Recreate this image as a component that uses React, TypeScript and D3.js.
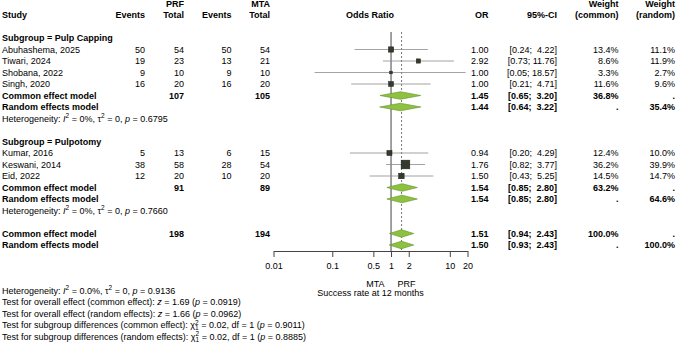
import React, { useEffect, useRef } from "react";
import * as d3 from "d3";

// study level data
const studies = ["Abuhashema, 2025", "Tiwari, 2024", "Shobana, 2022", "Singh, 2020", "Kumar, 2016", "Keswani, 2014", "Eid, 2022"];
const studyGroup = [0, 0, 0, 0, 1, 1, 1];
const prfEvents = [50, 19, 9, 16, 5, 38, 12];
const prfTotal = [54, 23, 10, 20, 13, 58, 20];
const mtaEvents = [50, 13, 9, 16, 6, 28, 10];
const mtaTotal = [54, 21, 10, 20, 15, 54, 20];
const oddsRatio = [1.0, 2.92, 1.0, 1.0, 0.94, 1.76, 1.5];
const ciLower = [0.24, 0.73, 0.05, 0.21, 0.2, 0.82, 0.43];
const ciUpper = [4.22, 11.76, 18.57, 4.71, 4.29, 3.77, 5.25];
const weightCommon = [13.4, 8.6, 3.3, 11.6, 12.4, 36.2, 14.5];
const weightRandom = [11.1, 11.9, 2.7, 9.6, 10.0, 39.9, 14.7];

// subgroup pooled results
const subgroups = ["Pulp Capping", "Pulpotomy"];
const subPrfTotal = [107, 91];
const subMtaTotal = [105, 89];
const subCommonOR = [1.45, 1.54];
const subCommonLower = [0.65, 0.85];
const subCommonUpper = [3.2, 2.8];
const subRandomOR = [1.44, 1.54];
const subRandomLower = [0.64, 0.85];
const subRandomUpper = [3.22, 2.8];
const subWeightCommon = [36.8, 63.2];
const subWeightRandom = [35.4, 64.6];
const subHetP = ["0.6795", "0.7660"];

// overall pooled results
const overallPrfTotal = 198;
const overallMtaTotal = 194;
const overallCommon = [1.51, 0.94, 2.43];
const overallRandom = [1.5, 0.93, 2.43];

const axisTicks = [0.01, 0.1, 0.5, 1, 2, 10, 20];

type Seg = [string, string?];

const bottomLines: Seg[][] = [
  [["Heterogeneity: "], ["I", "i"], ["2", "sup"], [" = 0.0%, "], ["τ"], ["2", "sup"], [" = 0, "], ["p", "i"], [" = 0.9136"]],
  [["Test for overall effect (common effect): "], ["z", "i"], [" = 1.69 ("], ["p", "i"], [" = 0.0919)"]],
  [["Test for overall effect (random effects): "], ["z", "i"], [" = 1.66 ("], ["p", "i"], [" = 0.0962)"]],
  [["Test for subgroup differences (common effect): "], ["χ"], ["2", "sup"], ["1", "sub"], [" = 0.02, df = 1 ("], ["p", "i"], [" = 0.9011)"]],
  [["Test for subgroup differences (random effects): "], ["χ"], ["2", "sup"], ["1", "sub"], [" = 0.02, df = 1 ("], ["p", "i"], [" = 0.8885)"]],
];

const FONT = "'Liberation Sans', Arial, Helvetica, sans-serif";

function App() {
  const ref = useRef<SVGSVGElement>(null);

  useEffect(() => {
    const width = 676;
    const height = 343;
    const svg = d3.select(ref.current);
    svg.selectAll("*").remove();
    svg.attr("width", width).attr("height", height).attr("font-family", FONT).attr("font-size", 9);

    // row index -> vertical centre
    const row = d3.scaleLinear().domain([0, 20]).range([15, 245]);
    const x = d3.scaleLog().domain([0.01, 20]).range([273.5, 467.5]);
    const sq = d3.scaleSqrt().domain([0, 36.2]).range([0, 8.7]);

    const col = {
      study: 2,
      prfE: 145,
      prfT: 184,
      mtaE: 231.5,
      mtaT: 270,
      or: 488.5,
      ci: 557,
      wc: 618.5,
      wr: 675,
    };

    const fmtCI = (lo: number, hi: number) => `[${lo.toFixed(2)}; ${hi.toFixed(2).padStart(5, " ")}]`;
    const pct = (w: number) => `${w.toFixed(1)}%`;

    function txt(xx: number, yy: number, s: string | number, anchor = "end", bold = false) {
      return svg
        .append("text")
        .attr("x", xx)
        .attr("y", yy)
        .attr("dy", "0.35em")
        .attr("text-anchor", anchor)
        .attr("font-weight", bold ? "bold" : "normal")
        .attr("xml:space", "preserve")
        .style("white-space", "pre")
        .attr("fill", "#000")
        .text(String(s));
    }

    // text with italics, superscripts and subscripts
    // (baseline offset goes on y, since a tspan's dy would replace the text's dy)
    function rich(xx: number, yy: number, segs: Seg[]) {
      const t = svg
        .append("text")
        .attr("x", xx)
        .attr("y", yy + 3.15)
        .attr("xml:space", "preserve")
        .style("white-space", "pre");
      let shift = 0;
      segs.forEach(([s, kind]) => {
        const target = kind === "sup" ? -3.5 : kind === "sub" ? 2.2 : 0;
        const sp = t.append("tspan").text(s);
        if (target - shift !== 0) sp.attr("dy", target - shift);
        if (kind === "sup" || kind === "sub") sp.attr("font-size", 6.5);
        if (kind === "sub") sp.attr("dx", -3.6);
        if (kind === "i") sp.attr("font-style", "italic");
        shift = target;
      });
    }

    // header
    txt(col.prfT, 3.5, "PRF", "end", true);
    txt(col.mtaT, 3.5, "MTA", "end", true);
    txt(col.wc, 3.5, "Weight", "end", true);
    txt(col.wr, 3.5, "Weight", "end", true);
    const h = row(0);
    txt(col.study, h, "Study", "start", true);
    txt(col.prfE, h, "Events", "end", true);
    txt(col.prfT, h, "Total", "end", true);
    txt(col.mtaE, h, "Events", "end", true);
    txt(col.mtaT, h, "Total", "end", true);
    txt((x.range()[0] + x.range()[1]) / 2 - 0.5, h, "Odds Ratio", "middle", true);
    txt(col.or, h, "OR", "end", true);
    txt(col.ci, h, "95%-CI", "end", true);
    txt(col.wc, h, "(common)", "end", true);
    txt(col.wr, h, "(random)", "end", true);

    // reference line at 1 and dashed common-effect line
    const axisY = 251;
    svg.append("line").attr("x1", x(1)).attr("x2", x(1)).attr("y1", 32).attr("y2", axisY).attr("stroke", "#444").attr("stroke-width", 1);
    svg
      .append("line")
      .attr("x1", x(overallCommon[0]))
      .attr("x2", x(overallCommon[0]))
      .attr("y1", 32)
      .attr("y2", axisY)
      .attr("stroke", "#555")
      .attr("stroke-width", 0.8)
      .attr("stroke-dasharray", "2,2");

    function diamond(yy: number, est: number, lo: number, hi: number) {
      const hh = 3.8;
      const p = d3.path();
      p.moveTo(x(lo), yy);
      p.lineTo(x(est), yy - hh);
      p.lineTo(x(hi), yy);
      p.lineTo(x(est), yy + hh);
      p.closePath();
      svg.append("path").attr("d", p.toString()).attr("fill", "#8cc23f").attr("stroke", "#5f8f24").attr("stroke-width", 0.6);
    }

    function pooledRow(yy: number, label: string, prfT: string, mtaT: string, est: number, lo: number, hi: number, wc: string, wr: string) {
      txt(col.study, yy, label, "start", true);
      txt(col.prfT, yy, prfT, "end", true);
      txt(col.mtaT, yy, mtaT, "end", true);
      diamond(yy, est, lo, hi);
      txt(col.or, yy, est.toFixed(2), "end", true);
      txt(col.ci, yy, fmtCI(lo, hi), "end", true);
      txt(col.wc, yy, wc, "end", true);
      txt(col.wr, yy, wr, "end", true);
    }

    let r = 2;
    subgroups.forEach((g, gi) => {
      txt(col.study, row(r), `Subgroup = ${g}`, "start", true);
      r++;
      studies.forEach((s, i) => {
        if (studyGroup[i] !== gi) return;
        const yy = row(r);
        txt(col.study, yy, s, "start");
        txt(col.prfE, yy, prfEvents[i]);
        txt(col.prfT, yy, prfTotal[i]);
        txt(col.mtaE, yy, mtaEvents[i]);
        txt(col.mtaT, yy, mtaTotal[i]);
        svg
          .append("line")
          .attr("x1", x(ciLower[i]))
          .attr("x2", x(ciUpper[i]))
          .attr("y1", yy)
          .attr("y2", yy)
          .attr("stroke", "#8c8c8c")
          .attr("stroke-width", 0.8);
        const side = sq(weightCommon[i]);
        svg
          .append("rect")
          .attr("x", x(oddsRatio[i]) - side / 2)
          .attr("y", yy - side / 2)
          .attr("width", side)
          .attr("height", side)
          .attr("fill", "#343a2e")
          .attr("stroke", "#1c1f18")
          .attr("stroke-width", 0.5);
        txt(col.or, yy, oddsRatio[i].toFixed(2));
        txt(col.ci, yy, fmtCI(ciLower[i], ciUpper[i]));
        txt(col.wc, yy, pct(weightCommon[i]));
        txt(col.wr, yy, pct(weightRandom[i]));
        r++;
      });
      pooledRow(row(r), "Common effect model", String(subPrfTotal[gi]), String(subMtaTotal[gi]), subCommonOR[gi], subCommonLower[gi], subCommonUpper[gi], pct(subWeightCommon[gi]), ".");
      r++;
      pooledRow(row(r), "Random effects model", "", "", subRandomOR[gi], subRandomLower[gi], subRandomUpper[gi], ".", pct(subWeightRandom[gi]));
      r++;
      rich(col.study, row(r), [["Heterogeneity: "], ["I", "i"], ["2", "sup"], [" = 0%, "], ["τ"], ["2", "sup"], [" = 0, "], ["p", "i"], [` = ${subHetP[gi]}`]]);
      r += 2;
    });

    pooledRow(row(r), "Common effect model", String(overallPrfTotal), String(overallMtaTotal), overallCommon[0], overallCommon[1], overallCommon[2], "100.0%", ".");
    r++;
    pooledRow(row(r), "Random effects model", "", "", overallRandom[0], overallRandom[1], overallRandom[2], ".", "100.0%");

    // x axis
    const xAxis = d3
      .axisBottom(x)
      .tickValues(axisTicks)
      .tickFormat((d) => String(d))
      .tickSize(6)
      .tickPadding(6)
      .tickSizeOuter(0);
    svg
      .append("g")
      .attr("transform", `translate(0,${axisY})`)
      .call(xAxis)
      .call((g) => g.selectAll("path, line").attr("stroke", "#444"))
      .call((g) => g.selectAll("text").attr("font-size", 9).attr("font-family", FONT).attr("fill", "#000"));

    txt(x(1) - 6.5, 283.5, "MTA", "end");
    txt(x(1) + 6.5, 283.5, "PRF", "start");
    txt((x.range()[0] + x.range()[1]) / 2, 293, "Success rate at 12 months", "middle");

    bottomLines.forEach((segs, i) => rich(col.study, 290.5 + 11.5 * i, segs));
  }, []);

  return <svg ref={ref} style={{ position: "absolute", left: 0, top: 0 }} />;
}

export default App;
